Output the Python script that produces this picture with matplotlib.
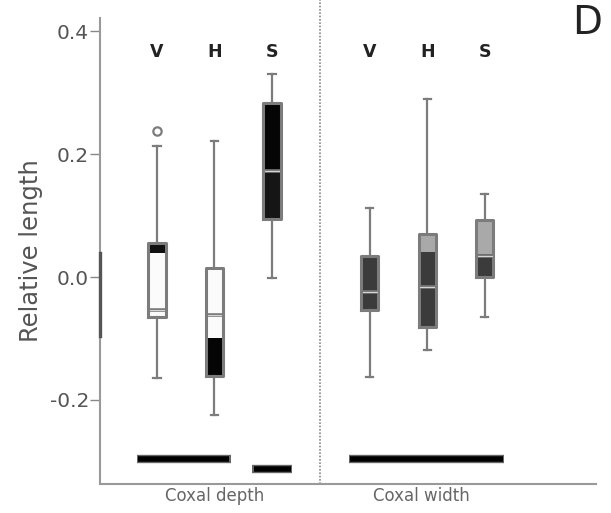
import matplotlib
matplotlib.use("Agg")
import matplotlib.pyplot as plt

# box statistics, left three = coxal depth, right three = coxal width
groups = ["V", "H", "S", "V", "H", "S"]
whisker_hi = [0.214, 0.222, 0.330, 0.112, 0.290, 0.136]
q3 = [0.056, 0.015, 0.284, 0.035, 0.070, 0.093]
medians = [-0.053, -0.062, 0.173, -0.025, -0.016, 0.034]
q1 = [-0.065, -0.161, 0.094, -0.053, -0.082, 0.000]
whisker_lo = [-0.164, -0.224, -0.001, -0.163, -0.119, -0.065]
outliers = [[0.238], [], [], [], [], []]
box_colors = ["#fbfbfb", "#fbfbfb", "#151515", "#3b3b3b", "#3b3b3b", "#3b3b3b"]

# shaded bands inside the boxes
band_box = [0, 1, 2, 4, 5]
band_lo = [0.040, -0.161, 0.173, 0.041, 0.037]
band_hi = [0.056, -0.099, 0.284, 0.070, 0.093]
band_colors = ["#111111", "#050505", "#050505", "#a9a9a9", "#a9a9a9"]

# homogeneous subset bars under the boxes
bar_start = [0.65, 2.66, 4.34]
bar_end = [2.28, 3.35, 7.03]
bar_level = [-0.297, -0.312, -0.297]

section_labels = ["Coxal depth", "Coxal width"]
yticks = [-0.2, 0.0, 0.2, 0.4]

positions = [1, 2, 3, 4.7, 5.7, 6.7]
box_width = 0.3
edge = "#7c7c7c"

fig = plt.figure(figsize=(6.11, 5.13), dpi=100)
ax = fig.add_axes([0.1637, 0.0565, 0.8118, 0.9085])

for pos, lo, hi, color in zip(positions, q1, q3, box_colors):
    ax.bar(pos, hi - lo, bottom=lo, width=box_width, color=color, zorder=2)
for idx, lo, hi, color in zip(band_box, band_lo, band_hi, band_colors):
    ax.bar(positions[idx], hi - lo, bottom=lo, width=box_width, color=color, zorder=2)

stats = []
for i in range(len(groups)):
    stats.append({
        "whishi": whisker_hi[i], "q3": q3[i], "med": medians[i],
        "q1": q1[i], "whislo": whisker_lo[i], "fliers": outliers[i],
    })
ax.bxp(
    stats, positions=positions, widths=box_width, capwidths=0.13,
    showfliers=True, manage_ticks=False,
    boxprops=dict(color=edge, linewidth=2.2),
    medianprops=dict(color=edge, linewidth=2.6),
    whiskerprops=dict(color=edge, linewidth=1.6),
    capprops=dict(color=edge, linewidth=1.6),
    flierprops=dict(marker="o", markerfacecolor="white", markeredgecolor=edge,
                    markersize=6, markeredgewidth=1.6),
    zorder=3,
)
# light inner line on the medians
for pos, med in zip(positions, medians):
    ax.plot([pos - box_width / 2 + 0.03, pos + box_width / 2 - 0.03], [med, med],
            color="#d8d8d8", lw=0.7, zorder=4)

for x0, x1, y in zip(bar_start, bar_end, bar_level):
    ax.plot([x0, x1], [y, y], color="#666666", lw=6, solid_capstyle="butt", zorder=3)
    ax.plot([x0 + 0.02, x1 - 0.02], [y, y], color="black", lw=4, solid_capstyle="butt", zorder=4)

for pos, label in zip(positions, groups):
    ax.text(pos, 0.366, label, ha="center", va="center", fontsize=12.5,
            fontweight="bold", color="#222222")

ax.axvline(3.835, ymin=0, ymax=1.04, color="#888888", lw=1.2, ls=(0, (1, 1)), clip_on=False)

ax.set_xlim(0.01, 8.635)
ax.set_ylim(-0.337, 0.422)
ax.set_yticks(yticks)
ax.set_yticklabels([f"{v:.1f}" for v in yticks])
ax.set_xticks([])
ax.tick_params(axis="y", length=7, width=1, color="#888888", labelcolor="#555555",
               labelsize=14.5, pad=1)
for side in ["top", "right"]:
    ax.spines[side].set_visible(False)
for side in ["left", "bottom"]:
    ax.spines[side].set_color("#999999")
    ax.spines[side].set_linewidth(1.5)
# darker stretch on the y axis line
ax.plot([0.01, 0.01], [-0.096, 0.040], color="#555555", lw=2.4, clip_on=False, zorder=5)

ax.set_ylabel("Relative length", fontsize=17.5, color="#555555", labelpad=5)
ax.text(2.0, -0.357, section_labels[0], ha="center", va="center", fontsize=12, color="#666666")
ax.text(5.6, -0.357, section_labels[1], ha="center", va="center", fontsize=12, color="#666666")

fig.text(0.961, 0.955, "D", ha="center", va="center", fontsize=28, color="#222222")

fig.savefig("out.png", dpi=100)
